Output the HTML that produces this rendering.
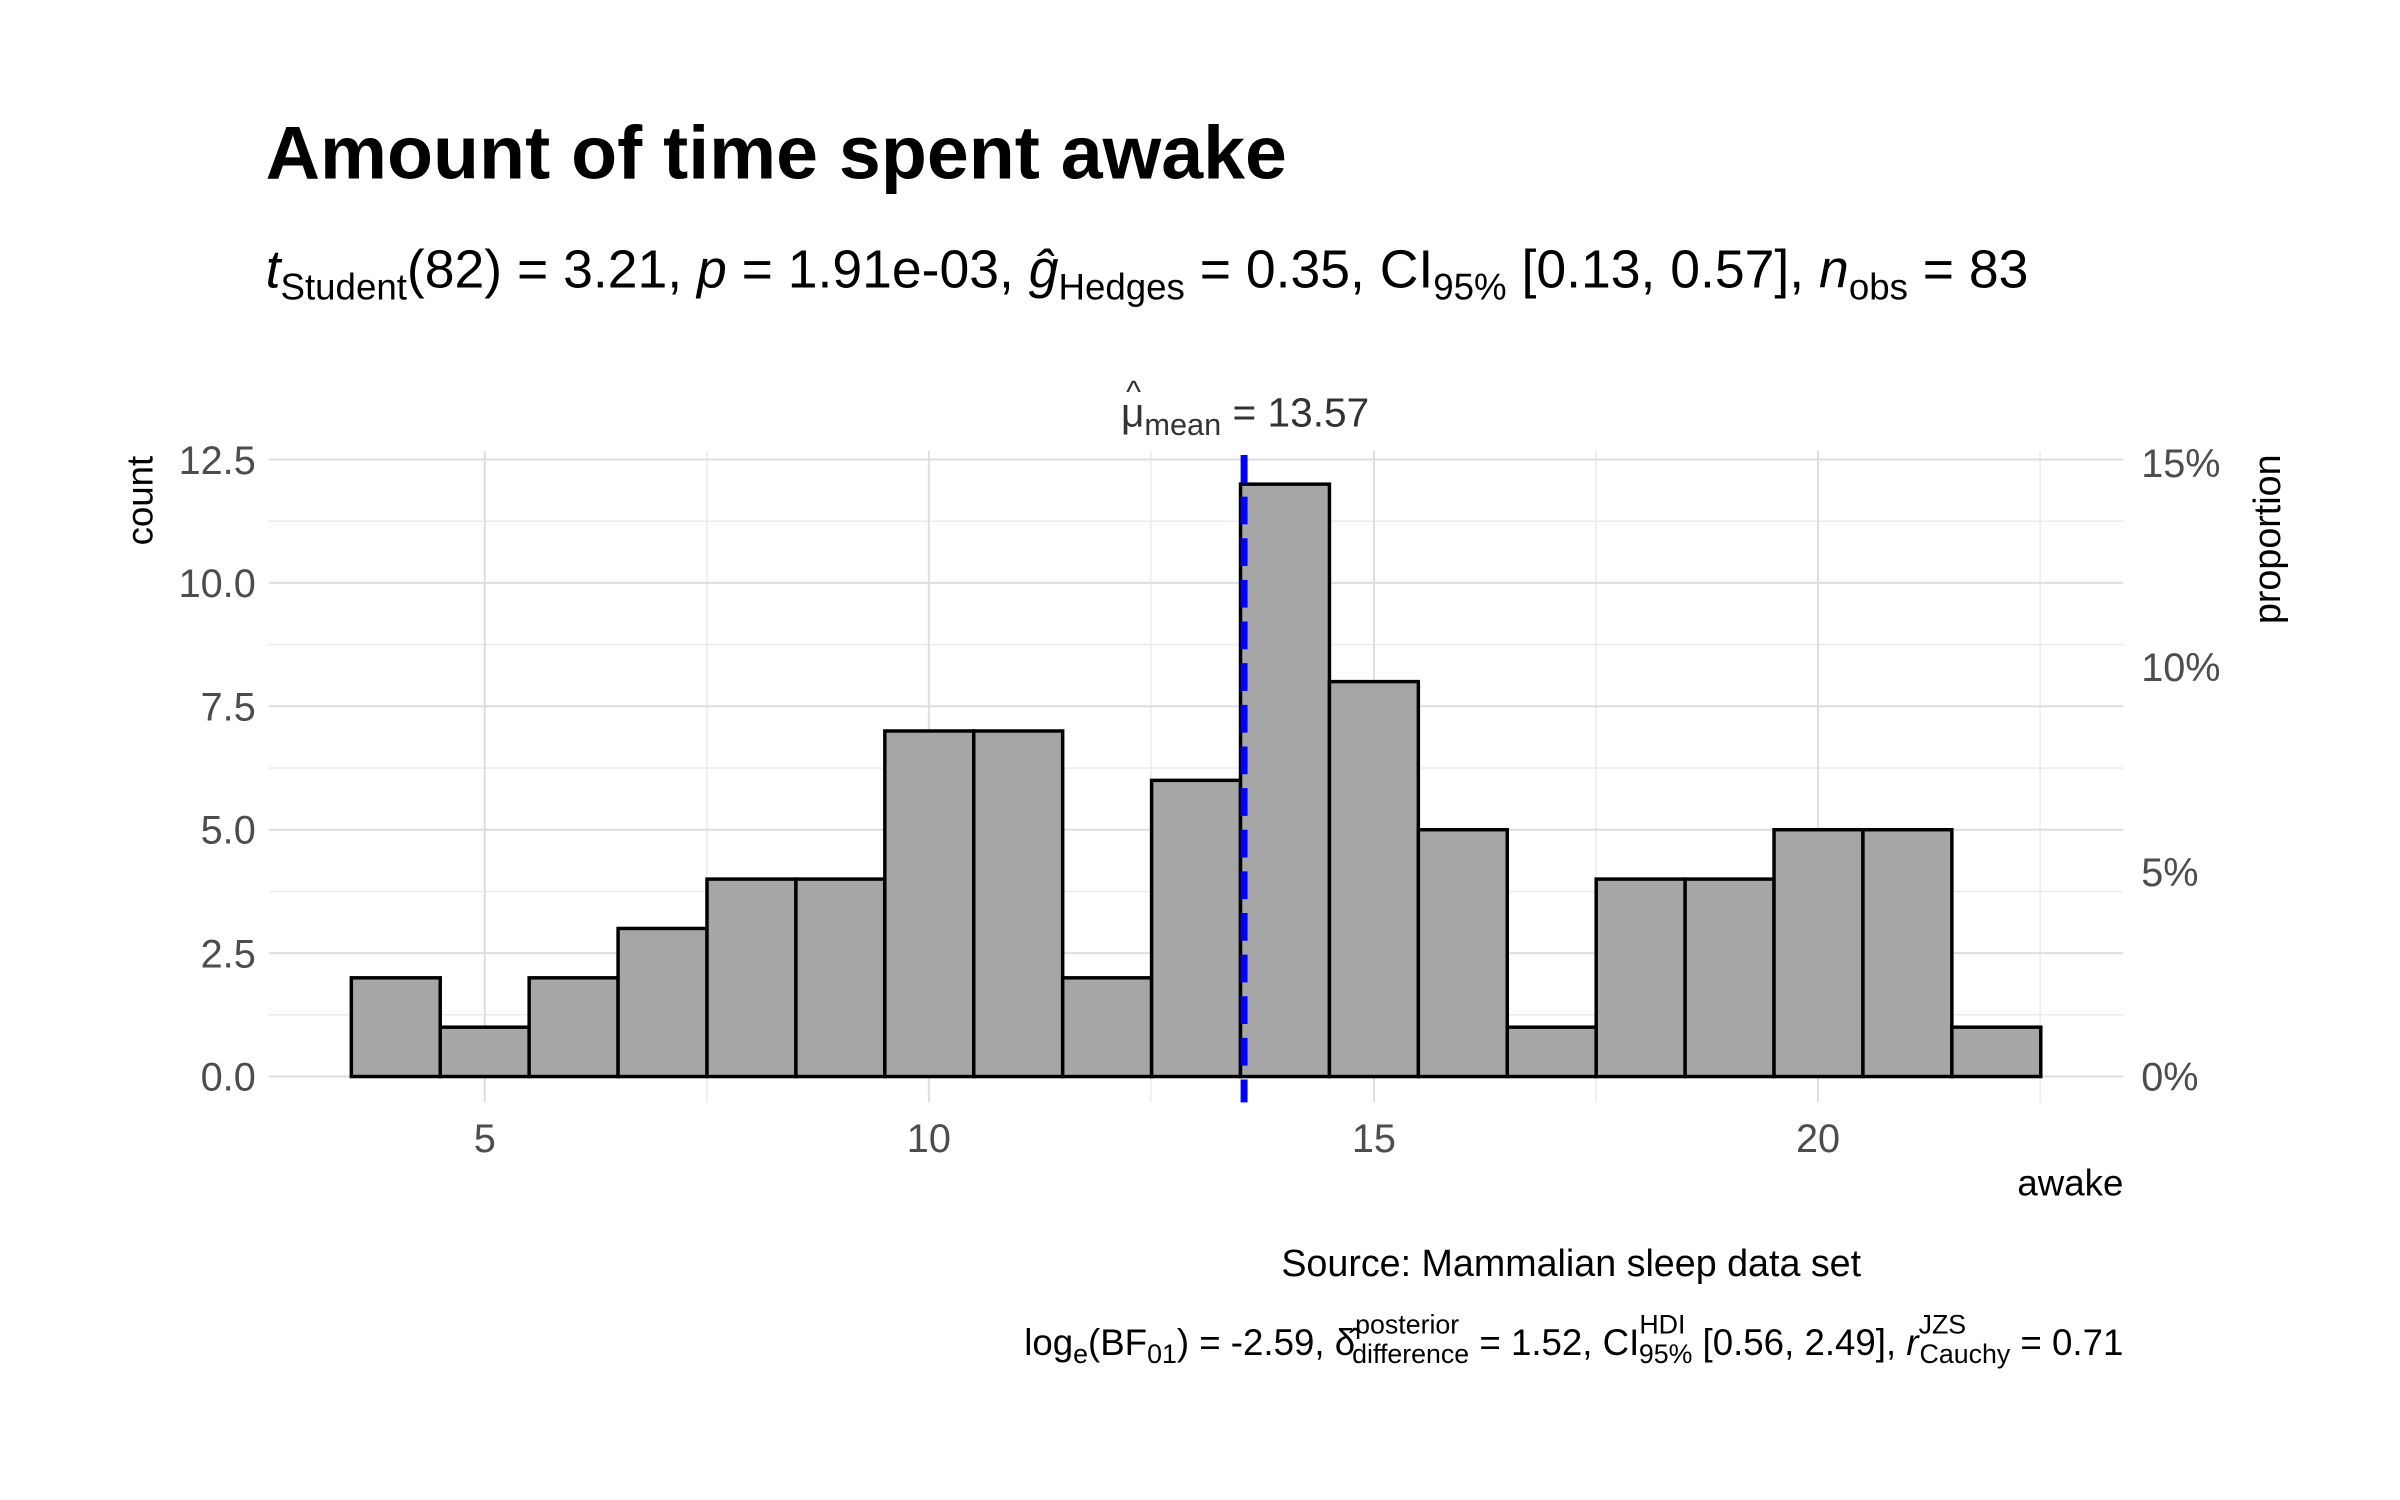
<!DOCTYPE html>
<html><head><meta charset="utf-8"><style>body{margin:0;background:#fff}svg{display:block}</style></head>
<body>
<svg width="2400" height="1500" viewBox="0 0 2400 1500" xmlns="http://www.w3.org/2000/svg" font-family="Liberation Sans, sans-serif">
<rect width="2400" height="1500" fill="#fff"/>
<g transform="scale(0.9913)">
<text x="268" y="180" font-size="76" font-weight="bold">Amount of time spent awake</text>
<text x="268" y="290" font-size="54"><tspan font-style="italic">t</tspan><tspan font-size="37" dy="12">Student</tspan><tspan dy="-12">(82) = 3.21, </tspan><tspan font-style="italic">p</tspan> = 1.91e-03, <tspan font-style="italic">ĝ</tspan><tspan font-size="37" dy="12">Hedges</tspan><tspan dy="-12"> = 0.35, CI</tspan><tspan font-size="37" dy="12">95%</tspan><tspan dy="-12"> [0.13, 0.57], </tspan><tspan font-style="italic">n</tspan><tspan font-size="37" dy="12">obs</tspan><tspan dy="-12"> = 83</tspan></text>
<g stroke="#ebebeb" stroke-width="1.5">
<line x1="271" x2="2142" y1="1023.7" y2="1023.7"/><line x1="271" x2="2142" y1="899.3" y2="899.3"/><line x1="271" x2="2142" y1="774.8" y2="774.8"/><line x1="271" x2="2142" y1="650.3" y2="650.3"/><line x1="271" x2="2142" y1="525.8" y2="525.8"/>
<line x1="713" x2="713" y1="455" y2="1112"/><line x1="1161" x2="1161" y1="455" y2="1112"/><line x1="1610" x2="1610" y1="455" y2="1112"/><line x1="2058" x2="2058" y1="455" y2="1112"/>
</g>
<g stroke="#dedede" stroke-width="2">
<line x1="271" x2="2142" y1="1086" y2="1086"/><line x1="271" x2="2142" y1="961.5" y2="961.5"/><line x1="271" x2="2142" y1="837" y2="837"/><line x1="271" x2="2142" y1="712.5" y2="712.5"/><line x1="271" x2="2142" y1="588" y2="588"/><line x1="271" x2="2142" y1="463.5" y2="463.5"/>
<line x1="489" x2="489" y1="455" y2="1112"/><line x1="937" x2="937" y1="455" y2="1112"/><line x1="1386" x2="1386" y1="455" y2="1112"/><line x1="1834" x2="1834" y1="455" y2="1112"/>
</g>
<g fill="#a6a6a6" stroke="#000" stroke-width="3.5">
<rect x="354.4" y="986.4" width="89.7" height="99.6"/>
<rect x="444.1" y="1036.2" width="89.7" height="49.8"/>
<rect x="533.8" y="986.4" width="89.7" height="99.6"/>
<rect x="623.5" y="936.6" width="89.7" height="149.4"/>
<rect x="713.2" y="886.8" width="89.7" height="199.2"/>
<rect x="802.9" y="886.8" width="89.7" height="199.2"/>
<rect x="892.6" y="737.4" width="89.7" height="348.6"/>
<rect x="982.3" y="737.4" width="89.7" height="348.6"/>
<rect x="1072" y="986.4" width="89.7" height="99.6"/>
<rect x="1161.7" y="787.2" width="89.7" height="298.8"/>
<rect x="1251.4" y="488.4" width="89.7" height="597.6"/>
<rect x="1341.1" y="687.6" width="89.7" height="398.4"/>
<rect x="1430.8" y="837" width="89.7" height="249"/>
<rect x="1520.5" y="1036.2" width="89.7" height="49.8"/>
<rect x="1610.2" y="886.8" width="89.7" height="199.2"/>
<rect x="1699.9" y="886.8" width="89.7" height="199.2"/>
<rect x="1789.6" y="837" width="89.7" height="249"/>
<rect x="1879.3" y="837" width="89.7" height="249"/>
<rect x="1969" y="1036.2" width="89.7" height="49.8"/>
</g>
<line x1="1255" x2="1255" y1="459" y2="1112" stroke="#0000ff" stroke-width="7" stroke-dasharray="28,14"/>
<text x="1136" y="406" font-size="32" fill="#333">^</text>
<text x="1256" y="430" font-size="41" fill="#333" text-anchor="middle">μ<tspan font-size="31" dy="9">mean</tspan><tspan dy="-9"> = 13.57</tspan></text>
<g font-size="40" fill="#4d4d4d" text-anchor="end">
<text x="258" y="1100">0.0</text><text x="258" y="976">2.5</text><text x="258" y="851">5.0</text><text x="258" y="727">7.5</text><text x="258" y="602">10.0</text><text x="258" y="478">12.5</text>
</g>
<g font-size="40" fill="#4d4d4d" text-anchor="middle">
<text x="489" y="1162">5</text><text x="937" y="1162">10</text><text x="1386" y="1162">15</text><text x="1834" y="1162">20</text>
</g>
<g font-size="40" fill="#4d4d4d">
<text x="2160" y="1100">0%</text><text x="2160" y="894">5%</text><text x="2160" y="687">10%</text><text x="2160" y="481">15%</text>
</g>
<text transform="translate(154,505) rotate(-90)" font-size="37" text-anchor="middle">count</text>
<text transform="translate(2300,544) rotate(-90)" font-size="38" text-anchor="middle">proportion</text>
<text x="2142" y="1206" font-size="37" text-anchor="end">awake</text>
<text x="1585" y="1287" font-size="38" text-anchor="middle">Source: Mammalian sleep data set</text>
<text x="2142" y="1367" font-size="37" text-anchor="end">log<tspan font-size="27" dy="8">e</tspan><tspan dy="-8">(BF</tspan><tspan font-size="27" dy="8">01</tspan><tspan dy="-8">) = -2.59, δ̂</tspan><tspan font-size="27" dy="-22">posterior</tspan><tspan font-size="27" dx="-108" dy="30">difference</tspan><tspan dy="-8"> = 1.52, CI</tspan><tspan font-size="27" dy="-22">HDI</tspan><tspan font-size="27" dx="-47" dy="30">95%</tspan><tspan dy="-8"> [0.56, 2.49], </tspan><tspan font-style="italic">r</tspan><tspan font-size="27" dy="-22">JZS</tspan><tspan font-size="27" dx="-47" dy="30">Cauchy</tspan><tspan dy="-8"> = 0.71</tspan></text>
</g>
</svg>
</body></html>
